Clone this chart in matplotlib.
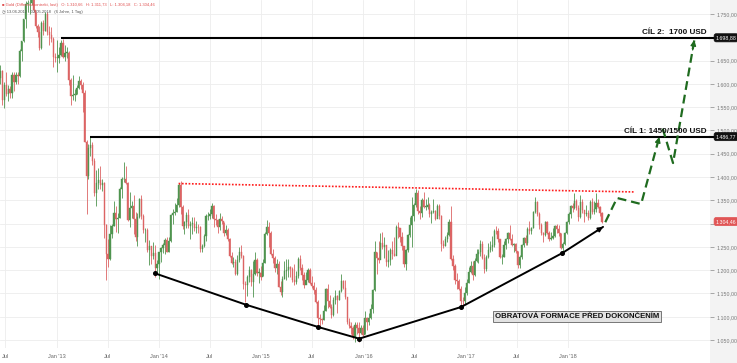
import matplotlib
matplotlib.use('Agg')
import matplotlib.pyplot as plt
import matplotlib.dates as mdates
import matplotlib.transforms as mtransforms
import numpy as np
import pandas as pd

plt.rcParams['font.family'] = ['Liberation Sans', 'DejaVu Sans']

# ---------------- data (weekly candles, read/estimated) ----------------
first_open = 1613.0
first_week_end = '2012-06-15'

closes = [
 1627,1566,1598,1579,1590,1580,1619,1605,1620,1616,1671,1691,1740,1771,1773,1773,1780,1758,1724,1712,
 1677,1731,1714,1751,1711,1705,1696,1657,1656,
 1656,1662,1687,1658,1667,1667,1609,1573,1577,1577,1592,1606,1597,1580,1476,1403,1462,1469,1435,1365,
 1387,1393,1383,1387,1297,1234,1223,1278,1295,1322,1310,1313,1375,1396,1396,1387,1308,1333,1337,1310,
 1272,1315,1352,1316,1286,1287,1244,1251,1230,1236,1204,1213,
 1238,1248,1254,1264,1240,1262,1318,1323,1326,1339,1382,1335,1294,1303,1318,1294,1300,1300,1290,1293,
 1292,1246,1252,1274,1316,1316,1320,1337,1310,1307,1293,1310,1305,1280,1287,1268,1230,1216,1218,1192,
 1222,1238,1231,1171,1169,1185,1201,1175,1191,1222,1195,1195,
 1186,1216,1277,1293,1279,1234,1227,1204,1213,1165,1153,1182,1198,1201,1207,1203,1178,1175,1188,1225,
 1204,1190,1168,1179,1201,1173,1167,1157,1131,1097,1095,1094,1113,1160,1134,1121,1103,1137,1145,1137,
 1156,1177,1162,1142,1088,1081,1076,1056,1083,1075,1066,1076,
 1061,1097,1089,1097,1117,1158,1239,1227,1222,1259,1250,1255,1217,1222,1243,1234,1231,1293,1290,1272,
 1252,1213,1243,1275,1298,1316,1340,1366,1327,1323,1350,1336,1336,1341,1321,1326,1328,1310,1338,1316,
 1257,1251,1267,1276,1304,1225,1208,1178,1177,1160,1134,1133,1151,
 1173,1197,1210,1190,1220,1234,1238,1257,1226,1202,1229,1243,1249,1254,1285,1284,1268,1228,1228,1254,
 1267,1279,1266,1254,1256,1242,1212,1228,1254,1269,1258,1289,1285,1291,1325,1346,1320,1297,1280,1275,
 1304,1280,1266,1269,1274,1294,1288,1280,1248,1257,1279,1303,
 1320,1338,1333,1349,1333,1315,1347,1330,1321,1323,1313,1346,1325,1332,1345,1336,1323,1304.46]

highs = [
 1640,1630,1605,1626,1597,1596,1625,1625,1625,1625,1675,1693,1740,1777,1780,1787,1796,1785,1755,1728,
 1725,1735,1738,1755,1754,1724,1722,1700,1666,
 1694,1679,1694,1697,1683,1680,1670,1612,1619,1588,1597,1616,1610,1603,1586,1480,1470,1487,1475,1440,
 1415,1420,1424,1396,1390,1300,1267,1297,1300,1348,1337,1323,1378,1400,1433,1424,1390,1368,1349,1362,
 1325,1322,1354,1361,1321,1291,1290,1264,1252,1261,1255,1221,
 1240,1250,1259,1270,1271,1271,1320,1332,1345,1355,1387,1392,1339,1306,1326,1331,1305,1315,1315,1306,
 1300,1294,1257,1277,1321,1326,1332,1345,1340,1321,1309,1322,1316,1303,1297,1290,1270,1240,1229,1223,
 1232,1249,1255,1233,1177,1190,1208,1203,1220,1238,1227,1205,
 1210,1223,1282,1307,1303,1285,1245,1230,1223,1219,1177,1188,1219,1224,1224,1210,1206,1214,1199,1229,
 1232,1213,1196,1196,1205,1204,1188,1175,1163,1135,1106,1098,1126,1162,1170,1147,1127,1142,1157,1147,
 1158,1191,1178,1180,1143,1097,1088,1080,1088,1088,1088,1082,
 1082,1113,1100,1109,1127,1160,1263,1240,1262,1280,1283,1271,1252,1243,1247,1262,1271,1296,1303,1285,
 1281,1253,1245,1278,1315,1358,1345,1375,1372,1337,1355,1368,1352,1358,1345,1330,1352,1330,1343,1343,
 1318,1264,1273,1283,1309,1337,1232,1214,1193,1182,1166,1142,1163,
 1182,1207,1220,1220,1226,1245,1245,1264,1263,1234,1232,1259,1262,1273,1289,1295,1290,1268,1234,1263,
 1270,1283,1296,1278,1259,1258,1242,1233,1256,1271,1275,1292,1306,1292,1327,1357,1348,1325,1302,1283,
 1305,1306,1285,1282,1290,1297,1299,1298,1280,1260,1281,1305,
 1326,1340,1345,1366,1353,1340,1362,1353,1324,1340,1329,1350,1355,1348,1365,1353,1338,1325]

lows = [
 1600,1555,1548,1575,1564,1570,1570,1585,1600,1600,1615,1650,1690,1720,1755,1750,1770,1755,1720,1700,
 1672,1675,1705,1714,1705,1684,1690,1636,1646,
 1626,1645,1660,1655,1650,1656,1598,1555,1565,1563,1578,1590,1590,1540,1475,1321,1395,1445,1425,1360,
 1338,1375,1375,1370,1270,1180,1207,1222,1270,1294,1282,1280,1312,1355,1390,1385,1305,1293,1311,1277,
 1262,1251,1313,1310,1279,1260,1240,1211,1214,1224,1185,1196,
 1182,1217,1236,1234,1238,1239,1260,1300,1319,1324,1336,1321,1288,1277,1291,1290,1268,1277,1284,1280,
 1280,1240,1240,1249,1263,1308,1309,1311,1292,1297,1280,1286,1299,1273,1275,1262,1228,1214,1207,1190,
 1189,1217,1226,1160,1132,1145,1175,1167,1142,1190,1187,1172,
 1180,1187,1216,1276,1250,1232,1216,1197,1192,1163,1147,1142,1182,1178,1185,1186,1175,1169,1170,1184,
 1201,1180,1162,1170,1174,1170,1162,1148,1130,1077,1080,1084,1093,1112,1119,1118,1098,1102,1128,1109,
 1135,1153,1159,1139,1084,1077,1062,1053,1046,1063,1046,1064,
 1058,1062,1071,1082,1096,1108,1155,1192,1215,1223,1246,1226,1208,1207,1212,1225,1230,1233,1270,1261,
 1244,1206,1200,1238,1271,1250,1305,1336,1320,1310,1315,1334,1330,1332,1315,1302,1322,1307,1313,1310,
 1241,1248,1252,1261,1273,1221,1200,1171,1160,1157,1122,1124,1128,
 1147,1172,1195,1180,1188,1217,1216,1231,1223,1195,1198,1226,1238,1241,1250,1277,1260,1226,1214,1228,
 1246,1259,1264,1251,1239,1236,1205,1205,1225,1249,1254,1254,1277,1278,1290,1323,1317,1289,1276,1261,
 1273,1278,1263,1264,1268,1272,1279,1273,1245,1236,1255,1278,
 1300,1312,1325,1331,1330,1306,1313,1322,1303,1316,1307,1309,1321,1321,1326,1334,1316,1302]

# target / resistance levels
target2_level = 1698.88
target2_start = '2013-01-15'
target1_level = 1486.77
target1_start = '2013-04-29'
last_price = 1304.46

# red dotted resistance line
resist_dates = ['2014-03-12', '2018-08-25']
resist_prices = [1386, 1368]

# black support trend line (with markers) and arrow end
trend_dates = ['2013-12-19', '2014-11-07', '2015-07-24', '2015-12-17', '2016-12-15', '2017-12-12']
trend_prices = [1193, 1126, 1078, 1053, 1121, 1237]
trend_end_date = '2018-05-06'
trend_end_price = 1293

# green dashed projection paths
proj1_dates = ['2018-05-14', '2018-06-25', '2018-09-19', '2018-11-23']
proj1_prices = [1303, 1355, 1342, 1486]
proj2_dates = ['2018-12-05', '2019-01-11', '2019-03-28']
proj2_prices = [1504, 1430, 1694]

ytick_values = [1050, 1100, 1150, 1200, 1250, 1300, 1350, 1400, 1450, 1500, 1550, 1600, 1650, 1700, 1750]
hidden_ytick = 1300   # covered by the last-price label
xtick_dates = ['2012-07-01', '2013-01-01', '2013-07-01', '2014-01-01', '2014-07-01', '2015-01-01',
               '2015-07-01', '2016-01-01', '2016-07-01', '2017-01-01', '2017-07-01', '2018-01-01']
xtick_labels = ['Jul', "Jan '13", 'Jul', "Jan '14", 'Jul', "Jan '15", 'Jul', "Jan '16", 'Jul',
                "Jan '17", 'Jul', "Jan '18"]

header1 = 'Gold (Differenzkontrakt, last)   O: 1.310,66   H: 1.311,73   L: 1.304,18   C: 1.304,46'
header2 = '◷ 13.06.2012 - 02.05.2018   (6 Jahre, 1 Tag)'
box_text = 'OBRATOVÁ FORMACE PŘED DOKONČENÍM'
box_date = '2018-02-02'
box_price = 1101

# ---------------- figure ----------------
W, H = 737, 363
fig = plt.figure(figsize=(W / 100, H / 100), dpi=100)
fig.patch.set_facecolor('white')

panel = fig.add_axes([710 / W, 0, 27 / W, 1], zorder=0)
panel.set_facecolor('#f3f3f3')
panel.set_xticks([]); panel.set_yticks([])
for s in panel.spines.values():
    s.set_visible(False)

ax = fig.add_axes([0, 15 / H, 710 / W, 1 - 15 / H], zorder=1)
ax.set_facecolor('white')
for s in ax.spines.values():
    s.set_visible(False)

def d2n(ds):
    return mdates.date2num(pd.to_datetime(ds))

week_end = pd.date_range(first_week_end, periods=len(closes), freq='W-FRI')
xc = mdates.date2num(week_end) - 2.0
opens = [first_open] + closes[:-1]
o = np.array(opens, float); c = np.array(closes, float)
h = np.array(highs, float); l = np.array(lows, float)
up = c >= o
col_up, col_dn = '#4f944f', '#dc6464'
colors = np.where(up, col_up, col_dn)
ax.vlines(xc, l, h, colors=colors, lw=0.6, zorder=3)
bottoms = np.minimum(o, c)
heights = np.maximum(np.abs(c - o), 0.8)
ax.bar(xc, heights, bottom=bottoms, width=4.2, color=colors, edgecolor=colors, lw=0.3, zorder=4)

x_left = d2n('2012-06-12'); x_right = d2n('2019-05-23')
ax.set_xlim(x_left, x_right)
ax.set_ylim(1033, 1780)

# grid & ticks
def fmt(v):
    return f'{v:,.2f}'.replace(',', 'X').replace('.', ',').replace('X', '.')

ax.set_yticks(ytick_values)
ax.set_yticklabels(['' if v == hidden_ytick else fmt(v) for v in ytick_values])
ax.yaxis.tick_right()
ax.tick_params(axis='y', length=3, width=0.6, color='#999999', pad=1.5, labelsize=3.8,
               labelcolor='#777777')
ax.set_xticks(d2n(xtick_dates))
ax.set_xticklabels(xtick_labels)
ax.tick_params(axis='x', length=0, pad=4, labelsize=4, labelcolor='#666666')
ax.grid(True, color='#ededed', lw=0.6, zorder=0)
ax.set_axisbelow(True)

blend = mtransforms.blended_transform_factory(ax.transAxes, ax.transData)

# target lines
for start, lvl in [(target2_start, target2_level), (target1_start, target1_level)]:
    ax.plot([d2n(start), x_right], [lvl, lvl], color='black', lw=1.5, zorder=6, solid_capstyle='butt')
    ax.plot([1.0, 1.01], [lvl, lvl], color='black', lw=1.5, transform=blend, clip_on=False, zorder=6)

def price_label(y, txt, fc):
    ax.text(1.008, y, txt, transform=blend, ha='left', va='center', fontsize=3.8, color='white',
            clip_on=False, zorder=10,
            bbox=dict(boxstyle='round,pad=0.3,rounding_size=0.4', fc=fc, ec=fc, lw=0.5))

price_label(target2_level, '1.698,88', '#111111')
price_label(target1_level, '1.486,77', '#111111')
price_label(last_price, '1.304,46', '#e05555')

# target texts
ax.text(0.9955, target2_level + 3, 'CÍL 2:  1700 USD', transform=blend, ha='right', va='bottom',
        fontsize=5.9, fontweight='bold', color='#111111', zorder=9)
ax.text(0.9955, target1_level + 3, 'CÍL 1: 1450/1500 USD', transform=blend, ha='right', va='bottom',
        fontsize=5.9, fontweight='bold', color='#111111', zorder=9)

# red dotted resistance
ax.plot(d2n(resist_dates), resist_prices, color='#ff1a1a', lw=1.2, ls=(0, (1, 1)), zorder=7)

# black support line
tx = list(d2n(trend_dates)) + [d2n(trend_end_date)]
ty = list(trend_prices) + [trend_end_price]
ax.plot(tx, ty, color='black', lw=1.4, zorder=7, solid_capstyle='round')
ax.plot(d2n(trend_dates), trend_prices, 'o', color='black', ms=2.6, zorder=8)
ax.annotate('', xy=(tx[-1], ty[-1]),
            xytext=(tx[-1] - 0.15 * (tx[-1] - tx[-2]), ty[-1] - 0.15 * (ty[-1] - ty[-2])),
            arrowprops=dict(arrowstyle='-|>', color='black', lw=1.2, mutation_scale=7,
                            shrinkA=0, shrinkB=0), zorder=8)

# green projection
gcol = '#1f6b1f'
for ds, ps in [(proj1_dates, proj1_prices), (proj2_dates, proj2_prices)]:
    px = d2n(ds)
    ax.plot(px, ps, color=gcol, lw=1.6, ls=(0, (4, 2.2)), zorder=8)
    ax.annotate('', xy=(px[-1], ps[-1]),
                xytext=(px[-1] - 0.08 * (px[-1] - px[-2]), ps[-1] - 0.08 * (ps[-1] - ps[-2])),
                arrowprops=dict(arrowstyle='-|>', color=gcol, lw=1.0, mutation_scale=8,
                                shrinkA=0, shrinkB=0), zorder=9)

# text box
ax.text(d2n(box_date), box_price, box_text, ha='center', va='center', fontsize=5.6, fontweight='bold',
        color='#111111', zorder=9,
        bbox=dict(boxstyle='square,pad=0.25', fc='#e2e2e2', ec='#777777', lw=0.7))

# header
fig.text(2 / W, 1 - 5 / H, '■ ' + header1, fontsize=3.0, color='#e05050', ha='left', va='center', zorder=20)
fig.text(2 / W, 1 - 12 / H, header2, fontsize=3.0, color='#555555', ha='left', va='center', zorder=20)

fig.savefig('out.png', dpi=100, facecolor='white')
